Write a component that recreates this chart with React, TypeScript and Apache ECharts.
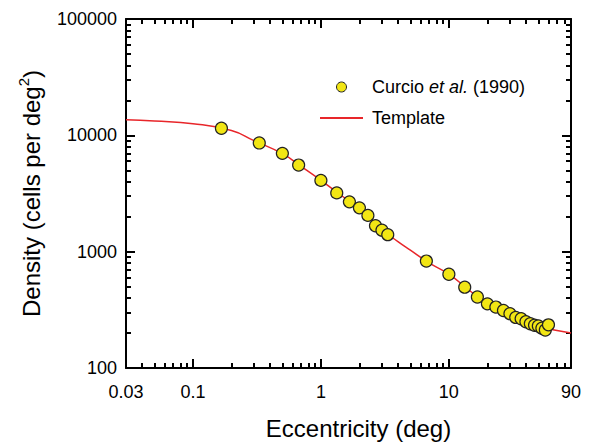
import React, { useEffect, useRef } from "react";
import * as echarts from "echarts";

// Curcio et al. (1990) measured densities
const curcioEcc = [0.167, 0.33, 0.5, 0.67, 1.0, 1.33, 1.67, 2.0, 2.33, 2.67, 3.0, 3.33, 6.67, 10, 13.3, 16.7, 20, 23.3, 26.7, 30, 33.3, 36.7, 40, 43.3, 46.7, 50, 53.3, 56.7, 60];
const curcioDensity = [11500, 8600, 7000, 5550, 4100, 3200, 2680, 2380, 2050, 1670, 1530, 1400, 830, 640, 495, 408, 356, 334, 312, 293, 272, 265, 250, 240, 233, 230, 220, 212, 235];

// Template curve
const templateEcc = [0.03, 0.05, 0.1, 0.2, 0.3, 0.5, 0.7, 1, 1.5, 2, 3, 4, 5, 7, 10, 15, 20, 30, 40, 50, 60, 70, 90];
const templateDensity = [13600, 13250, 12600, 11000, 9000, 6950, 5400, 4100, 2950, 2380, 1550, 1220, 1030, 800, 640, 450, 360, 290, 250, 230, 218, 210, 200];

// Axis ticks
const xLabelValues = [0.03, 0.1, 1, 10, 90];
const xMajorTicks = [0.1, 1, 10];
const xMinorTicks = [0.04, 0.05, 0.06, 0.07, 0.08, 0.09, 0.2, 0.3, 0.4, 0.5, 0.6, 0.7, 0.8, 0.9, 2, 3, 4, 5, 6, 7, 8, 9, 20, 30, 40, 50, 60, 70, 80];
const yLabelValues = [100, 1000, 10000, 100000];
const yMajorTicks = [1000, 10000];
const yMinorTicks = [200, 300, 400, 500, 600, 700, 800, 900, 2000, 3000, 4000, 5000, 6000, 7000, 8000, 9000, 20000, 30000, 40000, 50000, 60000, 70000, 80000, 90000];

const FONT = "'Liberation Sans', Arial, Helvetica, sans-serif";

export default function App() {
  const ref = useRef<HTMLDivElement>(null);
  useEffect(() => {
    if (!ref.current) return;
    const chart = echarts.init(ref.current, undefined, { renderer: "svg" });
    const fmt = (v: number) => String(+Number(v).toPrecision(3));
    const lineStyle = { color: "#000", width: 2 };
    const xAxisBase = (position: string, ticks: number[], len: number, showLine: boolean, labels: boolean, extra: any = {}) => ({
      type: "log",
      logBase: 10,
      min: 0.03,
      max: 90,
      position,
      gridIndex: 0,
      splitLine: { show: false },
      axisLine: { show: showLine, lineStyle },
      axisTick: { show: true, inside: true, length: len, lineStyle: { color: "#000", width: 2 }, customValues: ticks },
      axisLabel: labels
        ? { show: true, customValues: xLabelValues, formatter: fmt, fontSize: 18, color: "#000", fontFamily: FONT, margin: 15 }
        : { show: false },
      ...extra,
    });
    const yAxisBase = (position: string, ticks: number[], len: number, showLine: boolean, labels: boolean, extra: any = {}) => ({
      type: "log",
      logBase: 10,
      min: 100,
      max: 100000,
      position,
      gridIndex: 0,
      splitLine: { show: false },
      axisLine: { show: showLine, lineStyle },
      axisTick: { show: true, inside: true, length: len, lineStyle: { color: "#000", width: 2 }, customValues: ticks },
      axisLabel: labels
        ? { show: true, customValues: yLabelValues, formatter: fmt, fontSize: 18, color: "#000", fontFamily: FONT, margin: 9 }
        : { show: false },
      ...extra,
    });
    const curcioData = curcioEcc.map((x, i) => [x, curcioDensity[i]]);
    const templateData = templateEcc.map((x, i) => [x, templateDensity[i]]);
    chart.setOption({
      animation: false,
      backgroundColor: "#fff",
      grid: { left: 126, right: 19, top: 19, bottom: 73, containLabel: false },
      legend: {
        orient: "vertical",
        left: 320,
        top: 78,
        padding: 0,
        itemWidth: 43,
        itemHeight: 10,
        itemGap: 13,
        data: [
          { name: "Curcio et al. (1990)", itemStyle: { borderWidth: 1 } },
          { name: "Template", icon: "path://M0,0H43V2H0Z" },
        ],
        formatter: (name: string) => (name === "Curcio et al. (1990)" ? "Curcio {i|et al.} (1990)" : name),
        textStyle: {
          fontSize: 18,
          color: "#000",
          fontFamily: FONT,
          padding: [0, 0, 0, 4],
          rich: { i: { fontStyle: "italic", fontSize: 18, fontFamily: FONT, color: "#000" } },
        },
      },
      xAxis: [
        xAxisBase("bottom", xMajorTicks, 9, true, true, {
          name: "Eccentricity (deg)",
          nameLocation: "middle",
          nameGap: 48,
          nameTextStyle: { fontSize: 24, color: "#000", fontFamily: FONT, padding: [0, 0, 0, 20] },
        }),
        xAxisBase("bottom", xMinorTicks, 5, false, false),
        xAxisBase("top", xMajorTicks, 9, true, false),
        xAxisBase("top", xMinorTicks, 5, false, false),
      ],
      yAxis: [
        yAxisBase("left", yMajorTicks, 9, true, true, {
          name: "Density (cells per deg{sup|2})",
          nameLocation: "middle",
          nameRotate: 90,
          nameGap: 80,
          nameTextStyle: {
            fontSize: 24,
            color: "#000",
            fontFamily: FONT,
            lineHeight: 30,
            rich: { sup: { fontSize: 15, fontFamily: FONT, color: "#000", verticalAlign: "top", lineHeight: 22 } },
          },
        }),
        yAxisBase("left", yMinorTicks, 5, false, false),
        yAxisBase("right", yMajorTicks, 9, true, false),
        yAxisBase("right", yMinorTicks, 5, false, false),
      ],
      series: [
        {
          name: "Template",
          type: "line",
          xAxisIndex: 0,
          yAxisIndex: 0,
          data: templateData,
          smooth: true,
          symbol: "none",
          lineStyle: { color: "#e8262a", width: 1.5 },
          itemStyle: { color: "#e8262a" },
          z: 2,
        },
        {
          name: "Curcio et al. (1990)",
          type: "scatter",
          xAxisIndex: 0,
          yAxisIndex: 0,
          data: curcioData,
          symbol: "circle",
          symbolSize: 12,
          itemStyle: { color: "#f2e614", borderColor: "#222", borderWidth: 1.2, opacity: 1 },
          z: 3,
        },
      ],
    });
    return () => chart.dispose();
  }, []);
  return <div ref={ref} style={{ position: "absolute", left: 0, top: 0, width: 590, height: 445 }} />;
}
